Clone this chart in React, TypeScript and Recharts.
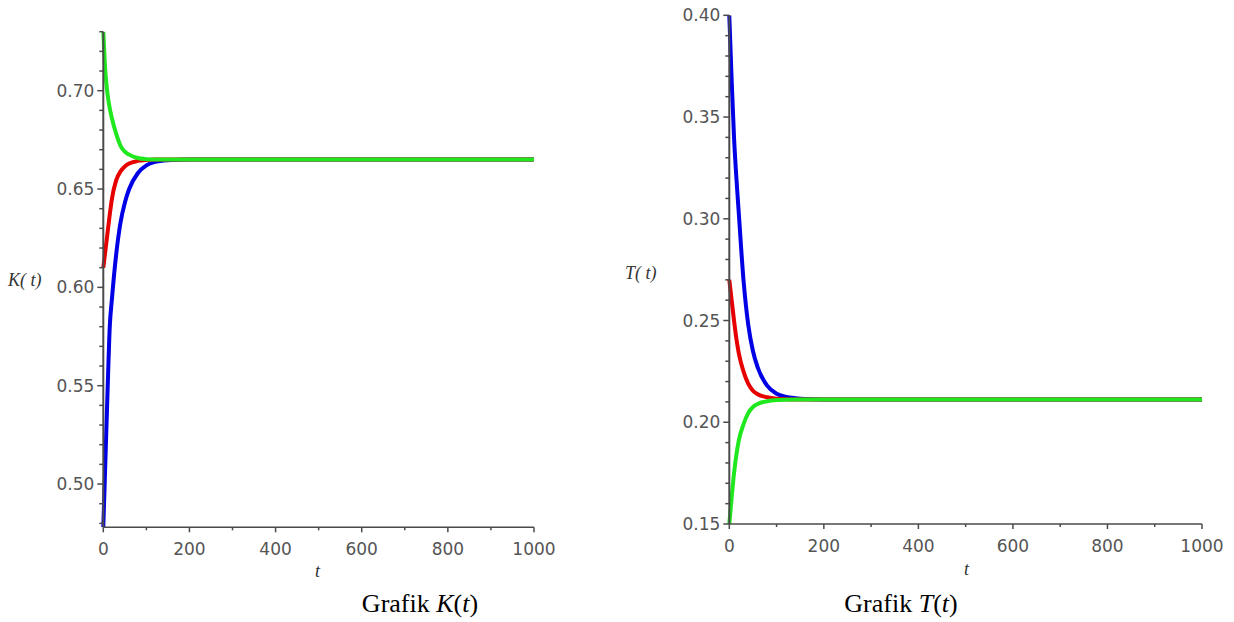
import React from "react";
import { LineChart, Line, XAxis, YAxis } from "recharts";

const tValues = [0, 5, 10, 15, 20, 30, 40, 50, 60, 80, 100, 120, 140, 160, 200, 300, 400, 500, 600, 700, 800, 900, 1000];

const kBlue = [0.478, 0.513, 0.548, 0.58, 0.594, 0.617, 0.633, 0.643, 0.65, 0.658, 0.662, 0.6638, 0.6645, 0.6648, 0.665, 0.665, 0.665, 0.665, 0.665, 0.665, 0.665, 0.665, 0.665];
const kRed = [0.61, 0.619, 0.628, 0.637, 0.645, 0.6545, 0.659, 0.6615, 0.663, 0.6643, 0.6648, 0.665, 0.665, 0.665, 0.665, 0.665, 0.665, 0.665, 0.665, 0.665, 0.665, 0.665, 0.665];
const kGreen = [0.73, 0.709, 0.698, 0.691, 0.686, 0.678, 0.672, 0.669, 0.6675, 0.6658, 0.6652, 0.665, 0.665, 0.665, 0.665, 0.665, 0.665, 0.665, 0.665, 0.665, 0.665, 0.665, 0.665];

const tBlue = [0.4, 0.368, 0.34, 0.32, 0.303, 0.27, 0.248, 0.235, 0.227, 0.218, 0.214, 0.2125, 0.2118, 0.2114, 0.2112, 0.2112, 0.2112, 0.2112, 0.2112, 0.2112, 0.2112, 0.2112, 0.2112];
const tRed = [0.27, 0.26, 0.25, 0.241, 0.234, 0.225, 0.219, 0.2155, 0.2138, 0.2123, 0.2116, 0.2113, 0.2112, 0.2112, 0.2112, 0.2112, 0.2112, 0.2112, 0.2112, 0.2112, 0.2112, 0.2112, 0.2112];
const tGreen = [0.15, 0.163, 0.175, 0.184, 0.191, 0.199, 0.2045, 0.2075, 0.209, 0.2103, 0.2109, 0.2111, 0.2112, 0.2112, 0.2112, 0.2112, 0.2112, 0.2112, 0.2112, 0.2112, 0.2112, 0.2112, 0.2112];

const xTicks = [0, 100, 200, 300, 400, 500, 600, 700, 800, 900, 1000];
const xLabelTicks = [0, 200, 400, 600, 800, 1000];

const kTicks = [0.48, 0.49, 0.5, 0.51, 0.52, 0.53, 0.54, 0.55, 0.56, 0.57, 0.58, 0.59, 0.6, 0.61, 0.62, 0.63, 0.64, 0.65, 0.66, 0.67, 0.68, 0.69, 0.7, 0.71, 0.72, 0.73];
const kLabelTicks = [0.5, 0.55, 0.6, 0.65, 0.7];
const tTicks = [0.15, 0.16, 0.17, 0.18, 0.19, 0.2, 0.21, 0.22, 0.23, 0.24, 0.25, 0.26, 0.27, 0.28, 0.29, 0.3, 0.31, 0.32, 0.33, 0.34, 0.35, 0.36, 0.37, 0.38, 0.39, 0.4];
const tLabelTicks = [0.15, 0.2, 0.25, 0.3, 0.35, 0.4];

const kData = tValues.map((t, i) => ({ t, blue: kBlue[i], red: kRed[i], green: kGreen[i] }));
const tData = tValues.map((t, i) => ({ t, blue: tBlue[i], red: tRed[i], green: tGreen[i] }));

const AXIS = "#4a4a4a";
const LABEL = "#555";
const tickFont = { fontFamily: "DejaVu Sans", fontSize: 17 };

const isIn = (list: number[], v: number) => list.some((m) => Math.abs(m - v) < 1e-6);

const makeYTick = (labels: number[]) => (props: any) => {
  const { x, y, payload } = props;
  const major = isIn(labels, payload.value);
  return (
    <g>
      <line x1={x - (major ? 6 : 4)} x2={x} y1={y} y2={y} stroke={AXIS} strokeWidth={1.5} />
      {major && (
        <text x={x - 9} y={y} textAnchor="end" dominantBaseline="central" fill={LABEL} style={tickFont}>
          {payload.value.toFixed(2)}
        </text>
      )}
    </g>
  );
};

const XTick = (props: any) => {
  const { x, y, payload } = props;
  const major = isIn(xLabelTicks, payload.value);
  return (
    <g>
      <line x1={x} x2={x} y1={y} y2={y + (major ? 5 : 3)} stroke={AXIS} strokeWidth={1.5} />
      {major && (
        <text x={x} y={y + 22} textAnchor="middle" dominantBaseline="central" fill={LABEL} style={tickFont}>
          {payload.value}
        </text>
      )}
    </g>
  );
};

const series = [
  { key: "blue", color: "#0000e6" },
  { key: "red", color: "#e60000" },
  { key: "green", color: "#1fe81f" },
];

const abs = (left: number, top: number): React.CSSProperties => ({ position: "absolute", left, top });

const italicLabel: React.CSSProperties = { fontFamily: "Liberation Serif", fontStyle: "italic", fontSize: 18, lineHeight: "18px", color: "#333" };
const caption: React.CSSProperties = { fontFamily: "Liberation Serif", fontSize: 26, lineHeight: "26px", color: "#000", width: 200, textAlign: "center" };

export default function App() {
  return (
    <div style={{ position: "absolute", left: 0, top: 0, width: 1234, height: 622, background: "#fff" }}>
      <div style={abs(0, 0)}>
        <LineChart width={600} height={622} data={kData} margin={{ top: 31.7, right: 66, bottom: 64.7, left: 3.3 }}>
          <XAxis dataKey="t" type="number" domain={[0, 1000]} ticks={xTicks} interval={0} tickSize={0} tickMargin={0} tickLine={false} axisLine={{ stroke: AXIS, strokeWidth: 1.5 }} tick={<XTick />} height={30} />
          <YAxis type="number" domain={[0.478, 0.73]} allowDataOverflow ticks={kTicks} interval={0} tickSize={0} tickMargin={0} tickLine={false} axisLine={{ stroke: AXIS, strokeWidth: 2 }} tick={makeYTick(kLabelTicks)} width={100} />
          {series.map((s) => (
            <Line key={s.key} dataKey={s.key} type="monotone" stroke={s.color} strokeWidth={4} dot={false} isAnimationActive={false} />
          ))}
        </LineChart>
      </div>
      <div style={abs(620, 0)}>
        <LineChart width={614} height={622} data={tData} margin={{ top: 15.3, right: 32, bottom: 68, left: 9.3 }}>
          <XAxis dataKey="t" type="number" domain={[0, 1000]} ticks={xTicks} interval={0} tickSize={0} tickMargin={0} tickLine={false} axisLine={{ stroke: AXIS, strokeWidth: 1.5 }} tick={<XTick />} height={30} />
          <YAxis type="number" domain={[0.15, 0.4]} allowDataOverflow ticks={tTicks} interval={0} tickSize={0} tickMargin={0} tickLine={false} axisLine={{ stroke: AXIS, strokeWidth: 2 }} tick={makeYTick(tLabelTicks)} width={100} />
          {series.map((s) => (
            <Line key={s.key} dataKey={s.key} type="monotone" stroke={s.color} strokeWidth={4} dot={false} isAnimationActive={false} />
          ))}
        </LineChart>
      </div>

      <div style={{ ...abs(8, 271), ...italicLabel }}>K( t)</div>
      <div style={{ ...abs(625, 264), ...italicLabel }}>T( t)</div>
      <div style={{ ...abs(315, 562), ...italicLabel }}>t</div>
      <div style={{ ...abs(964, 560), ...italicLabel }}>t</div>

      <div style={{ ...abs(320, 591), ...caption }}>
        Grafik <i>K</i>(<i>t</i>)
      </div>
      <div style={{ ...abs(801, 591), ...caption }}>
        Grafik <i>T</i>(<i>t</i>)
      </div>
    </div>
  );
}
